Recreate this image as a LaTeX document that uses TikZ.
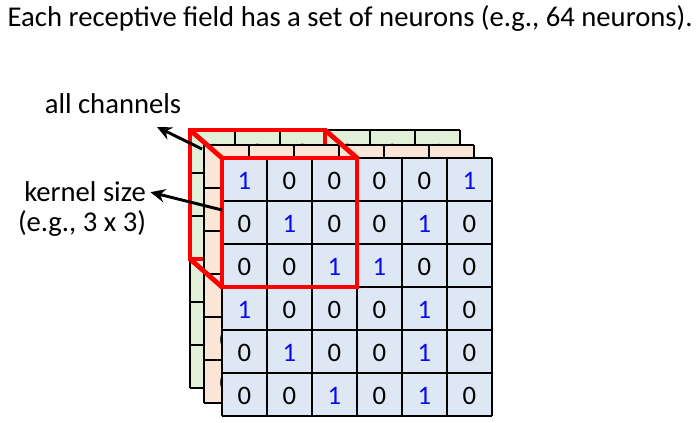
\documentclass[tikz,border=0pt]{standalone}
\usepackage{fontspec}
\setmainfont{Carlito}
\usetikzlibrary{arrows.meta}

\definecolor{frontfill}{RGB}{222,232,245}
\definecolor{midfill}{RGB}{251,229,214}
\definecolor{backfill}{RGB}{226,240,217}
\definecolor{onecol}{RGB}{10,10,240}
\definecolor{kernred}{RGB}{255,0,0}

\tikzset{
  cellline/.style={line width=0.9pt},
  digit/.style={font=\fontsize{20}{24}\selectfont},
  label/.style={font=\fontsize{21.5}{25}\selectfont, align=center},
  kernbox/.style={draw=kernred, line width=3.6pt, line join=miter},
  pointer/.style={line width=2.2pt, -{Stealth[length=11pt,width=10pt]}},
}

% one 6x6 feature map, top left corner at (#1,#2);
% digits only up to row #5 and column #6 (the rest is hidden anyway)
\newcommand\featgrid[6]{%
  \begin{scope}[shift={(#1,#2)}]
    \fill[#3] (0,0) rectangle (270,258);
    \foreach \i in {0,...,6}{
      \draw[cellline] (\i*45,0) -- (\i*45,258);
      \draw[cellline] (0,\i*43) -- (270,\i*43);
    }
    \foreach \row [count=\r from 0] in {{1,0,0,0,0,1},{0,1,0,0,1,0},{0,0,1,1,0,0},
                                        {1,0,0,0,1,0},{0,1,0,0,1,0},{0,0,1,0,1,0}}{
      \foreach \d [count=\c from 0] in \row {
        \ifnum\r>#5\else\ifnum\c>#6\else
          \node[digit] (#4-\r-\c) at (\c*45+22.5,\r*43+23) {\ifnum\d=1\color{onecol}\fi\d};
        \fi\fi
      }
    }
  \end{scope}}

\begin{document}
\begin{tikzpicture}[x=0.75pt, y=-0.75pt]
  \useasboundingbox (0,0) rectangle (699,423);

  \node[label, anchor=base west] (title) at (3,27)
    {Each receptive field has a set of neurons (e.g., 64 neurons).};

  % stacked channels, back to front
  \featgrid{190}{130}{backfill}{bk}{0}{5}
  \draw[kernbox] (190,130) rectangle (325,259);
  \featgrid{204}{145}{midfill}{md}{5}{0}
  \featgrid{222}{158}{frontfill}{fr}{5}{5}
  \draw[kernbox] (222,158) rectangle (357,287);
  \draw[kernbox] (190,130) -- (222,158);
  \draw[kernbox] (325,130) -- (357,158);
  \draw[kernbox] (190,259) -- (222,287);

  % labels
  \node[label, anchor=base] (chan) at (113,114) {all channels};
  \node[label, anchor=base] (ksize) at (85,202) {kernel size};
  \node[label, anchor=base] (keg) at (82,232) {(e.g., 3 x 3)};
  \coordinate (chanhead) at (157,127);
  \coordinate (chantail) at (202,149);
  \coordinate (kerntail) at (222,210);

  \draw[pointer] (chantail) -- (chanhead);
  \draw[pointer] (kerntail) -- (ksize.east);
\end{tikzpicture}
\end{document}
